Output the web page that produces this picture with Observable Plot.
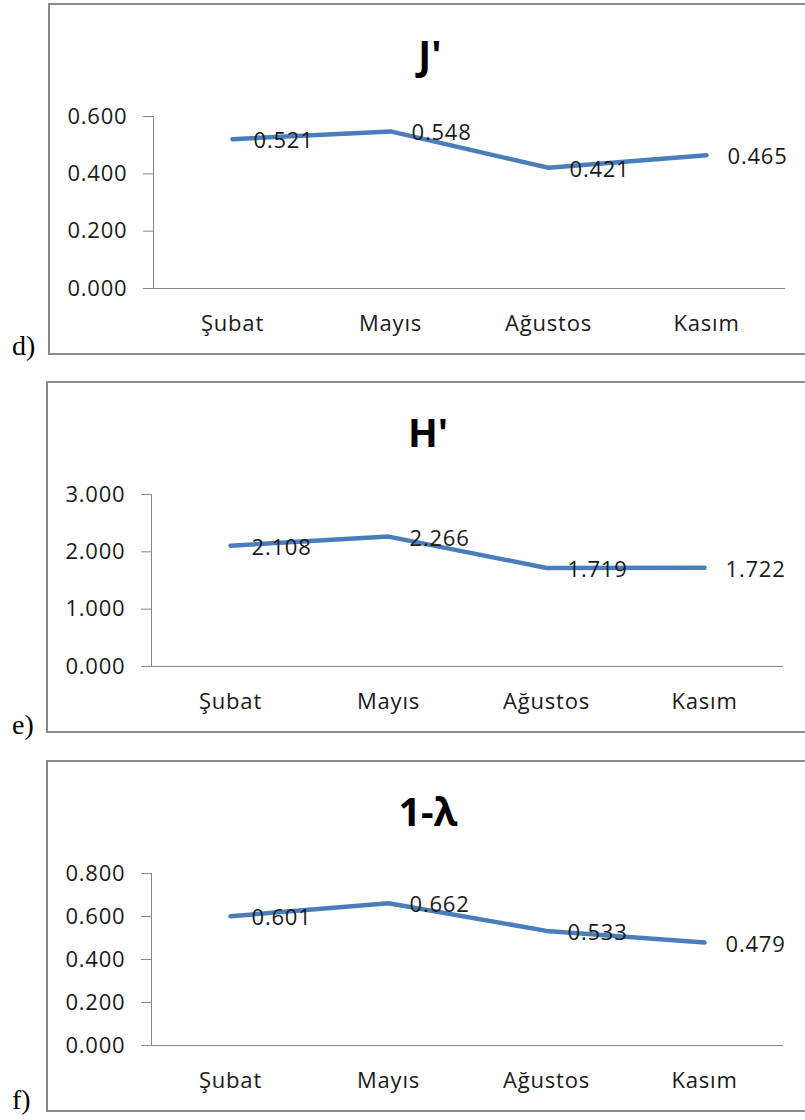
<!DOCTYPE html>
<html>
<head>
<meta charset="utf-8">
<script src="https://cdn.jsdelivr.net/npm/d3@7"></script>
<script src="https://cdn.jsdelivr.net/npm/@observablehq/plot@0.6"></script>
<style>
  body { margin: 0; background: #fff; width: 805px; height: 1120px; overflow: hidden; position: relative; }
  .panel { position: absolute; width: 760px; height: 348px; border: 2px solid #8a8a8a; background: #fff; }
  .panel svg { position: absolute; left: 0; top: 0; }
  .title { position: absolute; left: 0; width: 100%; top: 29px; text-align: center;
           font-family: "Open Sans", sans-serif; font-weight: 700; font-size: 39px; line-height: 39px; color: #000; }
  .tag { position: absolute; left: 12px; font-family: "Liberation Serif", "Times New Roman", serif;
         font-size: 28px; line-height: 28px; color: #000; }
</style>
</head>
<body>
<script>
// Seasonal diversity indices
const months = ["Şubat", "Mayıs", "Ağustos", "Kasım"];
const evennessJ = [0.521, 0.548, 0.421, 0.465];
const shannonH = [2.108, 2.266, 1.719, 1.722];
const simpson = [0.601, 0.662, 0.533, 0.479];

const panelTitles = ["J'", "H'", "1-λ"];
const panelTags = ["d)", "e)", "f)"];
const ticksJ = [0, 0.2, 0.4, 0.6];
const ticksH = [0, 1, 2, 3];
const ticksSimpson = [0, 0.2, 0.4, 0.6, 0.8];

const panels = [
  {title: panelTitles[0], tag: panelTags[0], values: evennessJ, ticks: ticksJ, left: 48, top: 3, tagTop: 332},
  {title: panelTitles[1], tag: panelTags[1], values: shannonH, ticks: ticksH, left: 46, top: 381, tagTop: 711},
  {title: panelTitles[2], tag: panelTags[2], values: simpson, ticks: ticksSimpson, left: 46, top: 760, tagTop: 1086}
];

const fmt = d3.format(".3f");
const axisGray = "#868686";
const ink = "#1a1a1a";

for (const p of panels) {
  const box = document.createElement("div");
  box.className = "panel";
  box.style.left = p.left + "px";
  box.style.top = p.top + "px";
  document.body.appendChild(box);

  const rows = p.values.map((v, i) => ({i, v}));

  const chart = Plot.plot({
    width: 760,
    height: 348,
    marginLeft: 103,
    marginRight: 25,
    marginTop: 111,
    marginBottom: 65,
    style: {fontFamily: "'Open Sans', sans-serif", fontSize: "22px", letterSpacing: "0.8px", background: "transparent"},
    x: {domain: [-0.5, months.length - 0.5]},
    y: {domain: [0, d3.max(p.ticks)]},
    marks: [
      Plot.ruleX([-0.5], {stroke: axisGray, strokeWidth: 1}),
      Plot.ruleY([0], {stroke: axisGray, strokeWidth: 1}),
      Plot.axisY({ticks: p.ticks, tickFormat: fmt, tickSize: 10, tickPadding: 16, stroke: axisGray, fill: ink, label: null}),
      Plot.axisX({ticks: d3.range(months.length), tickFormat: i => months[i], tickSize: 0, tickPadding: 27, fill: ink, label: null}),
      Plot.line(rows, {x: "i", y: "v", stroke: "#4a7ebb", strokeWidth: 4.5, strokeLinejoin: "round", strokeLinecap: "round"}),
      Plot.text(rows, {x: "i", y: "v", text: d => fmt(d.v), textAnchor: "start", dx: 21, dy: 2, fill: ink})
    ]
  });
  box.appendChild(chart);

  const title = document.createElement("div");
  title.className = "title";
  title.textContent = p.title;
  box.appendChild(title);

  const tag = document.createElement("div");
  tag.className = "tag";
  tag.style.top = p.tagTop + "px";
  tag.textContent = p.tag;
  document.body.appendChild(tag);
}
</script>
</body>
</html>
